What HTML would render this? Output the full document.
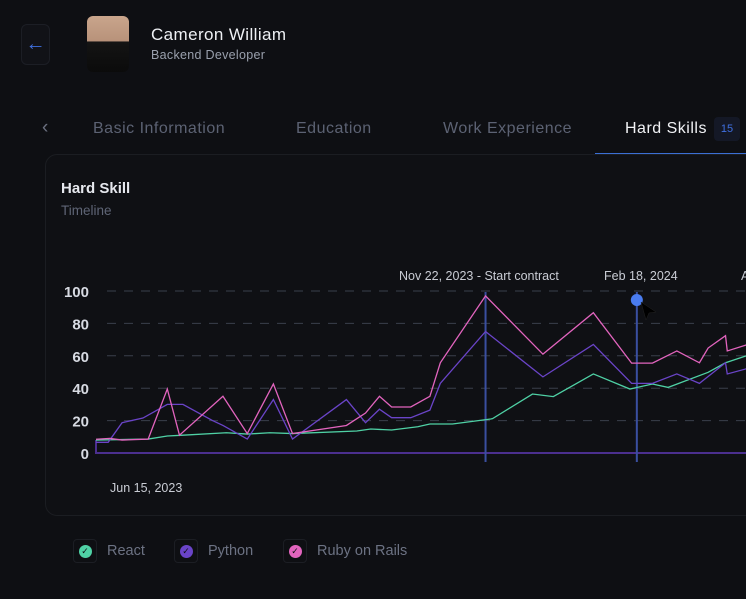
<!DOCTYPE html>
<html><head><meta charset="utf-8"><style>
body{margin:0;width:746px;height:599px;background:#0e0f13;overflow:hidden;font-family:"Liberation Sans",sans-serif;position:relative}
.abs{position:absolute}
.tab{font-size:16px;letter-spacing:0.5px;top:120px}
</style></head><body>
<div class="abs" style="left:21px;top:24px;width:27px;height:39px;border:1px solid #1c1e25;border-radius:6px;background:#111217;color:#3f6fe0;font-size:20px;line-height:38px;text-align:center">←</div>
<div class="abs" style="left:87px;top:16px;width:42px;height:56px;border-radius:6px;background:linear-gradient(#c9a58c 0,#b8927a 45%,#141414 46%,#0b0b0b 100%)"></div>
<div class="abs" style="left:151px;top:25px;color:#eef0f4;font-size:17px;letter-spacing:0.4px">Cameron William</div>
<div class="abs" style="left:151px;top:48px;color:#9aa0ad;font-size:12.5px;letter-spacing:0.3px">Backend Developer</div>
<div class="abs" style="left:42px;top:117px;color:#6b7080;font-size:19px">‹</div>
<div class="abs tab" style="left:93px;color:#5c6273">Basic Information</div>
<div class="abs tab" style="left:296px;color:#5c6273">Education</div>
<div class="abs tab" style="left:443px;color:#5c6273">Work Experience</div>
<div class="abs tab" style="left:625px;color:#f1f2f5">Hard Skills</div>
<div class="abs" style="left:714px;top:117px;width:26px;height:24px;background:#141826;border-radius:4px;color:#3f6fe0;font-size:11px;line-height:24px;text-align:center">15</div>
<div class="abs" style="left:595px;top:153px;width:151px;height:1px;background:#3b6fd4"></div>
<div class="abs" style="left:45px;top:154px;width:720px;height:360px;border:1px solid #1b1d22;border-radius:12px;background:#0f1014"></div>
<div class="abs" style="left:61px;top:180px;color:#e6e8ee;font-size:15px;font-weight:bold">Hard Skill</div>
<div class="abs" style="left:61px;top:203px;color:#5f6576;font-size:13.5px">Timeline</div>
<svg class="abs" style="left:0;top:0" width="746" height="599" id="chart"></svg>
<div class="abs" style="left:73px;top:539px;display:flex;align-items:center;gap:10px;color:#6c7283;font-size:14.5px"><span style="width:22px;height:22px;border:1px solid #1c1e24;border-radius:4px;display:flex;align-items:center;justify-content:center"><span style="width:13px;height:13px;border-radius:50%;background:#4fd1a5;color:#0e0f13;font-size:9px;text-align:center;line-height:13px">✓</span></span>React</div>
<div class="abs" style="left:174px;top:539px;display:flex;align-items:center;gap:10px;color:#6c7283;font-size:14.5px"><span style="width:22px;height:22px;border:1px solid #1c1e24;border-radius:4px;display:flex;align-items:center;justify-content:center"><span style="width:13px;height:13px;border-radius:50%;background:#6a44c8;color:#0e0f13;font-size:9px;text-align:center;line-height:13px">✓</span></span>Python</div>
<div class="abs" style="left:283px;top:539px;display:flex;align-items:center;gap:10px;color:#6c7283;font-size:14.5px"><span style="width:22px;height:22px;border:1px solid #1c1e24;border-radius:4px;display:flex;align-items:center;justify-content:center"><span style="width:13px;height:13px;border-radius:50%;background:#e264be;color:#0e0f13;font-size:9px;text-align:center;line-height:13px">✓</span></span>Ruby on Rails</div>
<script>
const yTicks=[0,20,40,60,80,100];
const pinkDays=[0,8,15,30,41,48,73,87,102,113,144,155,163,170,181,192,198,224,257,286,308,320,334,347,352,362,363,374];
const pinkVals=[8.5,9,8,8.6,39.5,11,35,12,42.6,12,17,24.7,35,28.4,28.4,35,55.7,97,61,86.6,55.5,55.5,63,55.7,64.8,72.4,63,66.7];
const purpleDays=[0,7,15,27,41,50,67,73,87,102,113,144,155,163,170,181,192,198,224,257,286,308,320,334,347,362,363,374];
const purpleVals=[6.6,6.6,18.7,21.6,30,30,20,17,8.6,33,8.6,33,18.7,27,21.8,21.8,26.5,43,75,47,67,43,43,48.8,43,55.7,48.8,52];
const greenDays=[0,30,41,50,75,87,100,113,150,158,170,185,192,205,227,228,251,263,286,307,320,329,352,362,374];
const greenVals=[8,8.6,10.5,11,12.5,11.7,12.5,12,13.6,14.8,14.2,16.2,17.9,17.9,21,21.2,36.4,34.8,48.8,39.5,42.6,40.5,49.8,55.7,60];
const markerDays=[224,311];
const markerLabels=["Nov 22, 2023 - Start contract","Feb 18, 2024"];
const startLabel="Jun 15, 2023";
const NS="http://www.w3.org/2000/svg";
const svg=document.getElementById('chart');
const x=d=>96+d*1.739;
const y=v=>453-v*1.62;
function mk(t,a){const e=document.createElementNS(NS,t);for(const k in a)e.setAttribute(k,a[k]);svg.appendChild(e);return e;}
yTicks.forEach(v=>{
  const g=mk('line',{x1:107,x2:746,y1:y(v),y2:y(v),stroke:'#3a3f4b','stroke-dasharray':'9 8','stroke-width':1});
  
  
  const t=mk('text',{x:89,y:y(v)+6,'text-anchor':'end',fill:'#d7dae2','font-size':15,'font-weight':'bold','font-family':'Liberation Sans, sans-serif'});
  t.textContent=v;
  
  
});
const base=mk('polyline',{points:`${x(0)},${y(8)} ${x(0)},${y(0)} 746,${y(0)}`,fill:'none',stroke:'#4b2f8f','stroke-width':2});


markerDays.forEach((d,i)=>{
  const l=mk('line',{x1:x(d),x2:x(d),y1:292,y2:462,stroke:'#3a4fa0','stroke-width':2});
  
  
  const t=mk('text',{x:i==0?399:604,y:280,fill:'#c9ccd4','font-size':12.5,'font-family':'Liberation Sans, sans-serif'});
  t.textContent=markerLabels[i];
  
  
});
const sl=mk('text',{x:110,y:492,fill:'#c9ccd4','font-size':12.5,'font-family':'Liberation Sans, sans-serif'});
sl.textContent=startLabel;


const al=mk('text',{x:741,y:280,fill:'#c9ccd4','font-size':12.5,'font-family':'Liberation Sans, sans-serif'});
al.textContent="A";


function series(ds,vs,c,n){
  const p=mk('polyline',{points:ds.map((d,i)=>x(d)+','+y(vs[i])).join(' '),fill:'none',stroke:c,'stroke-width':1.3});
  
  
}
series(greenDays,greenVals,'#4fd1a5','react-line');
series(purpleDays,purpleVals,'#6a44c8','python-line');
series(pinkDays,pinkVals,'#e264be','ruby-line');
const dot=mk('circle',{cx:x(markerDays[1]),cy:300,r:6,fill:'#4a7cf0'});


const cur=mk('path',{d:'M641 302 L656 312 L649 313 L646 320 Z',fill:'#000',stroke:'#222','stroke-width':0.5});


</script>
</body></html>
